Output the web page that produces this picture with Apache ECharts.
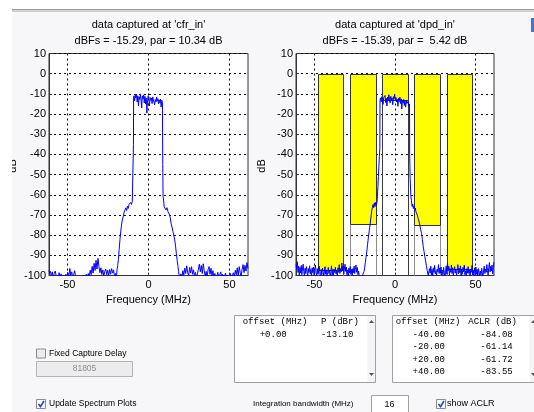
<!DOCTYPE html>
<html><head><meta charset="utf-8">
<script src="https://cdn.jsdelivr.net/npm/echarts@6/dist/echarts.min.js"></script>
<style>html,body{margin:0;padding:0;background:#fff}#c{width:534px;height:412px}</style>
</head><body><div id="c"></div>
<script>
// ---------------- data ----------------
const titleCfr = ["data captured at 'cfr_in'", "dBFs = -15.29, par = 10.34 dB"];
const titleDpd = ["data captured at 'dpd_in'", "dBFs = -15.39, par =  5.42 dB"];
const xAxisTitle = 'Frequency (MHz)';
const yAxisTitle = 'dB';
const xTicks = [-50, 0, 50];
const freqRange = [-61.44, 61.44];
const dbRange = [-100, 10];
const dbStep = 10;

const cfrInSpectrum = [[-61.4,-97.5],[-61.0,-99],[-60.5,-98],[-60.0,-100.5],[-59.4,-98.2],[-58.8,-101],[-58.2,-99],[-57.6,-97.8],[-57.0,-100.2],[-56.4,-99.5],[-55.8,-102],[-55.2,-98.6],[-54.6,-100.8],[-54.0,-99.2],[-53.4,-101.5],[-52.8,-100],[-52.2,-102],[-51.6,-100.6],[-51.0,-99.4],[-50.4,-101],[-49.8,-98.5],[-49.2,-100.4],[-48.6,-96.5],[-48.0,-99.8],[-47.4,-98.2],[-46.8,-101],[-46.2,-99.6],[-45.6,-97.6],[-45.0,-100.5],[-44.4,-102],[-43.8,-100.8],[-43.2,-103],[-42.6,-101],[-42.0,-102.5],[-41.4,-100.4],[-40.8,-101.8],[-40.2,-99.8],[-39.6,-102],[-39.0,-100.6],[-38.4,-99.4],[-37.8,-101.2],[-37.2,-99],[-36.6,-100.4],[-36.0,-97.4],[-35.4,-99.6],[-34.8,-95.5],[-34.2,-98.8],[-33.6,-94],[-33.0,-97.5],[-32.4,-92.5],[-31.8,-96.8],[-31.2,-91.5],[-30.6,-95.5],[-30.0,-98.6],[-29.4,-96.2],[-28.8,-99.5],[-28.2,-97.2],[-27.6,-100.4],[-27.0,-98],[-26.4,-96.8],[-25.8,-99.6],[-25.2,-97.4],[-24.6,-100.2],[-24.0,-97],[-23.4,-99.4],[-22.8,-96.6],[-22.2,-98.8],[-21.6,-97.2],[-21.0,-100.6],[-20.4,-99],[-19.8,-101],[-19.4,-97],[-19.0,-95],[-18.6,-92],[-18.1,-87],[-17.6,-82],[-17.1,-78],[-16.5,-74],[-16.0,-72],[-15.5,-70.5],[-15.0,-68.5],[-14.5,-69],[-14.0,-66.5],[-13.5,-67.8],[-13.0,-65.6],[-12.5,-66.8],[-12.0,-64.8],[-11.5,-65.6],[-11.0,-63.8],[-10.5,-64.8],[-10.0,-63.2],[-9.6,-64],[-9.3,-35],[-9.2,-12],
[-9.0,-11],[-8.6,-13.5],[-8.2,-10.5],[-7.8,-12],[-7.4,-10.2],[-7.0,-14],[-6.6,-11],[-6.2,-16],[-5.8,-11.5],[-5.4,-12.8],[-5.0,-10],[-4.6,-13],[-4.2,-17],[-3.8,-11],[-3.4,-12.5],[-3.0,-10.5],[-2.6,-14.5],[-2.2,-11.2],[-1.8,-15],[-1.4,-12],[-1.0,-19.5],[-0.6,-13.5],[-0.2,-11],[0.2,-12.5],[0.6,-16],[1.0,-11.8],[1.4,-13.2],[1.8,-12],[2.2,-14.8],[2.6,-11.5],[3.0,-13],[3.4,-12.2],[3.8,-15.5],[4.2,-12.8],[4.6,-14],[5.0,-11.6],[5.4,-13.6],[5.8,-12.4],[6.2,-15],[6.6,-13],[7.0,-14.4],[7.4,-12.6],[7.8,-16.5],[8.2,-13.2],[8.6,-14.5],
[8.7,-14],[8.8,-45],[9.0,-61],[9.3,-62.6],[9.7,-66],[10.2,-65.2],[10.8,-67.5],[11.4,-66.4],[12.0,-68.3],[12.5,-67.4],[13.0,-70],[13.5,-71.6],[13.9,-74],[14.5,-76],[15.1,-78.2],[15.7,-80.5],[16.2,-82.4],[16.7,-85.5],[17.2,-89],[17.7,-92.5],[18.2,-95.6],[18.6,-98],[19.0,-100.5],[19.4,-101.5],
[20.0,-99.2],[20.6,-101.4],[21.2,-97.6],[21.8,-99.8],[22.4,-96.4],[23.0,-99],[23.6,-95.2],[24.2,-98.6],[24.8,-100.2],[25.4,-96],[26.0,-98.8],[26.6,-95.6],[27.2,-99.4],[27.8,-97.2],[28.4,-100.6],[29.0,-98.4],[29.6,-101.2],[30.2,-99.2],[30.8,-96.8],[31.4,-94.4],[32.0,-98.2],[32.6,-95],[33.2,-99],[33.8,-94.2],[34.4,-97.6],[35.0,-100.4],[35.6,-98],[36.2,-101],[36.8,-97],[37.4,-95.6],[38.0,-99.4],[38.6,-96.4],[39.2,-100],[39.8,-97.6],[40.4,-101.2],[41.0,-99],[41.6,-102],[42.2,-100.4],[42.8,-98.4],[43.4,-101.6],[44.0,-99.6],[44.6,-98.2],[45.2,-100.8],[45.8,-99.4],[46.4,-102],[47.0,-100.2],[47.6,-98.8],[48.2,-101.4],[48.8,-99.8],[49.4,-102.2],[50.0,-100.6],[50.6,-99],[51.2,-101.8],[51.8,-100],[52.4,-98.6],[53.0,-101],[53.6,-97.4],[54.2,-99.6],[54.8,-96.2],[55.4,-100.2],[56.0,-95.6],[56.6,-98.4],[57.2,-100.8],[57.8,-96.8],[58.4,-94.6],[59.0,-98.6],[59.6,-95],[60.2,-97.8],[60.8,-93.6],[61.4,-96.4]];

const dpdInSpectrum = [[-61.4,-94.5],[-61.0,-97],[-60.6,-93.2],[-60.2,-98.5],[-59.8,-95.4],[-59.4,-100.5],[-59.0,-96],[-58.6,-98.8],[-58.2,-95],[-57.8,-99.6],[-57.4,-96.8],[-57.0,-94.4],[-56.6,-98],[-56.2,-100.2],[-55.8,-96.4],[-55.4,-99],[-55.0,-95.6],[-54.6,-97.8],[-54.2,-101],[-53.8,-96.6],[-53.4,-98.4],[-53.0,-95.2],[-52.6,-99.2],[-52.2,-97],[-51.8,-100.6],[-51.4,-96.2],[-51.0,-98.6],[-50.6,-95.8],[-50.2,-99.8],[-49.8,-97.4],[-49.4,-94.8],[-49.0,-98.2],[-48.6,-100.4],[-48.2,-96.6],[-47.8,-99.2],[-47.4,-97.6],[-47.0,-95.4],[-46.6,-98.8],[-46.2,-101.2],[-45.8,-97],[-45.4,-99.6],[-45.0,-96.4],[-44.6,-98],[-44.2,-100.8],[-43.8,-97.8],[-43.4,-95.6],[-43.0,-99.4],[-42.6,-97.2],[-42.2,-100.2],[-41.8,-98.4],[-41.4,-96],[-41.0,-99],[-40.6,-97.4],[-40.2,-101],[-39.8,-98.2],[-39.4,-95.2],[-39.0,-99.8],[-38.6,-97],[-38.2,-100.4],[-37.8,-96.8],[-37.4,-98.6],[-37.0,-95.8],[-36.6,-99.2],[-36.2,-97.6],[-35.8,-100.6],[-35.4,-96.2],[-35.0,-98.4],[-34.6,-94.6],[-34.2,-99],[-33.8,-96.6],[-33.4,-98.2],[-33.0,-93.8],[-32.6,-97.4],[-32.2,-95.2],[-31.8,-99.4],[-31.4,-96.8],[-31.0,-94.4],[-30.6,-98],[-30.2,-95.8],[-29.8,-99.6],[-29.4,-97.2],[-29.0,-100.2],[-28.6,-96.4],[-28.2,-98.8],[-27.8,-95.6],[-27.4,-99.2],[-27.0,-97],[-26.6,-100.8],[-26.2,-96.6],[-25.8,-98.6],[-25.4,-95.4],[-25.0,-99],[-24.6,-96.2],[-24.2,-94.8],[-23.8,-98.4],[-23.4,-96],[-23.0,-99.6],[-22.6,-97.8],[-22.2,-100.4],[-21.8,-101.6],[-21.4,-100.2],[-21.0,-102],[-20.6,-100.8],
[-20.2,-101.4],[-19.6,-100.6],[-19.2,-98],[-18.8,-96],[-18.4,-93.5],[-18.0,-91],[-17.5,-88],[-17.0,-84.5],[-16.5,-81],[-16.0,-77.8],[-15.4,-74.5],[-14.8,-70.2],[-14.4,-67.6],[-14.0,-66.2],[-13.6,-64.8],[-13.2,-66.4],[-12.8,-64],[-12.4,-65.8],[-12.0,-63.8],[-11.6,-65.2],[-11.2,-63.6],[-10.9,-61],[-10.6,-56],[-10.3,-51],[-10.0,-46],[-9.7,-41],[-9.4,-37],[-9.3,-13.5],
[-9.0,-12],[-8.6,-14],[-8.2,-11.4],[-7.8,-13],[-7.4,-15.2],[-7.0,-11.8],[-6.6,-12.6],[-6.2,-10.8],[-5.8,-14.4],[-5.4,-12.2],[-5.0,-16],[-4.6,-11.6],[-4.2,-13.4],[-3.8,-10.4],[-3.4,-12.8],[-3.0,-14.6],[-2.6,-11.2],[-2.2,-13],[-1.8,-12],[-1.4,-15.4],[-1.0,-11.4],[-0.6,-12.4],[-0.2,-10.2],[0.2,-13.6],[0.6,-11.8],[1.0,-14],[1.4,-12.6],[1.8,-16.2],[2.2,-12.2],[2.6,-13.8],[3.0,-11.6],[3.4,-14.8],[3.8,-12.4],[4.2,-17.5],[4.6,-13],[5.0,-14.6],[5.4,-12.8],[5.8,-15.8],[6.2,-13.4],[6.6,-16.6],[7.0,-13.2],[7.4,-14.8],[7.8,-15.4],[8.2,-13.6],[8.6,-16],
[9.0,-15],[9.1,-40],[9.4,-52],[9.8,-60],[10.2,-63],[10.6,-65.8],[11.0,-64.6],[11.4,-66.8],[11.8,-65.6],[12.2,-67.8],[12.6,-66.6],[13.0,-68.4],[13.4,-67.6],[13.8,-70],[14.2,-71.2],[14.6,-72.4],[15.0,-73.5],[15.5,-75.5],[16.0,-77.4],[16.5,-79.2],[17.0,-82.2],[17.5,-85.5],[18.0,-88],[18.5,-90.6],[19.0,-92.8],[19.5,-95.2],[20.0,-97.6],[20.6,-100.2],
[21.0,-99.4],[21.4,-96.6],[21.8,-98.8],[22.2,-95.4],[22.6,-99.8],[23.0,-97],[23.4,-100.4],[23.8,-96.2],[24.2,-98.4],[24.6,-95],[25.0,-99.2],[25.4,-97.6],[25.8,-100.6],[26.2,-96.8],[26.6,-98.2],[27.0,-94.6],[27.4,-99],[27.8,-96.4],[28.2,-98.8],[28.6,-95.8],[29.0,-100.2],[29.4,-97.4],[29.8,-99.6],[30.2,-96],[30.6,-98.6],[31.0,-101],[31.4,-97.8],[31.8,-95.2],[32.2,-99.4],[32.6,-93.8],[33.0,-97.6],[33.4,-95.4],[33.8,-99.8],[34.2,-96.6],[34.6,-98.4],[35.0,-94.8],[35.4,-99],[35.8,-96.2],[36.2,-100.4],[36.6,-97.4],[37.0,-95.6],[37.4,-98.8],[37.8,-96.8],[38.2,-100],[38.6,-97.2],[39.0,-94.6],[39.4,-99.2],[39.8,-96.4],[40.2,-98.6],[40.6,-95.2],[41.0,-100.6],[41.4,-97],[41.8,-99.4],[42.2,-96],[42.6,-98.2],[43.0,-94.8],[43.4,-99.6],[43.8,-97.6],[44.2,-100.2],[44.6,-96.6],[45.0,-98.8],[45.4,-95.6],[45.8,-99],[46.2,-97.2],[46.6,-101],[47.0,-96.8],[47.4,-98.4],[47.8,-95],[48.2,-99.8],[48.6,-97.4],[49.0,-100.4],[49.4,-96.2],[49.8,-98.6],[50.2,-95.8],[50.6,-99.4],[51.0,-97],[51.4,-100.8],[51.8,-96.6],[52.2,-98.2],[52.6,-101.2],[53.0,-97.8],[53.4,-99.6],[53.8,-96.4],[54.2,-98.8],[54.6,-100.6],[55.0,-97.2],[55.4,-95.4],[55.8,-99],[56.2,-96.8],[56.6,-98.4],[57.0,-94.6],[57.4,-97.6],[57.8,-99.8],[58.2,-96],[58.6,-93.6],[59.0,-98.2],[59.4,-95.4],[59.8,-97.8],[60.2,-94.8],[60.6,-99.2],[61.0,-96.2],[61.4,-93.4]];

const mainOffset = 0;
const mainPower = -13.10;          // dBr
const aclrOffsets = [-40, -20, 20, 40];
const aclrValues = [-84.08, -61.14, -61.72, -83.55];
const channelTopDb = 0;
const integrationBw = 16;
const powerHeader = ['offset (MHz)', 'P (dBr)'];
const aclrHeader = ['offset (MHz)', 'ACLR (dB)'];
const captureDelay = '81805';
const labelFixedDelay = 'Fixed Capture Delay';
const labelUpdate = 'Update Spectrum Plots';
const labelIntBw = 'Integration bandwidth (MHz)';
const labelShowAclr = 'show ACLR';

// ---------------- chart ----------------
const FONT = '"Liberation Sans", Arial, sans-serif';
const MONO = '"Liberation Mono", "DejaVu Sans Mono", monospace';
const chart = echarts.init(document.getElementById('c'), null, {renderer: 'canvas', width: 534, height: 412});

const grids = [
  {left: 49, top: 53.5, width: 199, height: 222},
  {left: 296, top: 53.5, width: 198, height: 222}
];

function xAxisCfg(gi) {
  return {type: 'value', gridIndex: gi, min: freqRange[0], max: freqRange[1],
    axisLine: {show: true, onZero: false, lineStyle: {color: '#333', width: 1}},
    axisTick: {show: true, inside: true, length: 3, customValues: xTicks, lineStyle: {color: '#333'}},
    axisLabel: {show: true, customValues: xTicks, color: '#000', fontSize: 11, fontFamily: FONT, margin: 4},
    splitLine: {show: true, lineStyle: {color: '#000', width: 1, type: [2, 3]}}};
}
function yAxisCfg(gi) {
  return {type: 'value', gridIndex: gi, min: dbRange[0], max: dbRange[1], interval: dbStep,
    axisLine: {show: true, onZero: false, lineStyle: {color: '#333', width: 1}},
    axisTick: {show: true, inside: true, length: 3, lineStyle: {color: '#333'}},
    axisLabel: {show: true, color: '#000', fontSize: 11, fontFamily: FONT, margin: 3},
    splitLine: {show: true, lineStyle: {color: '#000', width: 1, type: [2, 3]}}};
}

const channels = [[mainOffset, mainPower, 1]].concat(
  aclrOffsets.map((o, i) => [o, +(mainPower + aclrValues[i]).toFixed(2), 0]));

function renderChannel(params, api) {
  const off = api.value(0), lvl = api.value(1), isMain = api.value(2);
  const a = api.coord([off - integrationBw / 2, channelTopDb]);
  const b = api.coord([off + integrationBw / 2, lvl]);
  const c = api.coord([off + integrationBw / 2, dbRange[0]]);
  const x0 = Math.round(a[0]) + 0.5, x1 = Math.round(b[0]) + 0.5;
  const y0 = Math.round(a[1]) + 0.5, y1 = Math.round(b[1]) + 0.5, y2 = Math.round(c[1]) + 0.5;
  return {type: 'group', children: [
    {type: 'rect', shape: {x: x0, y: y1, width: x1 - x0, height: y2 - y1},
      style: {fill: 'none', stroke: isMain ? '#3a3a3a' : '#8c8c8c', lineWidth: 1}},
    {type: 'rect', shape: {x: x0, y: y0, width: x1 - x0, height: y1 - y0},
      style: {fill: '#ffff00', stroke: '#333', lineWidth: 1}}
  ]};
}

function txt(x, y, s, o) {
  o = o || {};
  return {type: 'text', x: x, y: y, z: o.z || 50, rotation: o.rot || 0,
    style: {text: s, fill: o.fill || '#000', fontSize: o.size || 11, fontFamily: o.family || FONT,
      align: o.align || 'left', verticalAlign: o.va || 'middle',
      textAlign: o.align || 'left', textVerticalAlign: o.va || 'middle'}};
}
function rect(x, y, w, h, fill, stroke, z) {
  return {type: 'rect', z: z || 40, shape: {x: x, y: y, width: w, height: h},
    style: {fill: fill, stroke: stroke || null, lineWidth: 1}};
}
function checkbox(x, y, checked) {
  const els = [rect(x + 0.5, y + 0.5, 9, 9, checked ? '#ffffff' : '#ececec', '#8a8a8a')];
  if (checked) els.push({type: 'polyline', z: 45, shape: {points: [[x + 2.5, y + 5], [x + 4.5, y + 7.5], [x + 8, y + 2]]},
    style: {stroke: '#2350c8', lineWidth: 1.7, fill: null}});
  return els;
}
function tri(cx, cy, up) {
  const pts = up ? [[cx - 2.5, cy + 1.5], [cx + 2.5, cy + 1.5], [cx, cy - 1.5]]
                 : [[cx - 2.5, cy - 1.5], [cx + 2.5, cy - 1.5], [cx, cy + 1.5]];
  return {type: 'polygon', z: 45, shape: {points: pts}, style: {fill: '#555'}};
}
const fmtOff = v => (v >= 0 ? '+' : '') + v.toFixed(2);

let graphics = [];
// white margins and top separator
graphics.push(rect(0, 0, 534, 9, '#ffffff', null, 100));
graphics.push(rect(0, 0, 12, 412, '#ffffff', null, 100));
graphics.push(rect(12, 9, 522, 1, '#9c9c9c', null, 101));
graphics.push(rect(12, 10, 522, 2, '#cfd0d4', null, 101));
graphics.push(rect(531, 18, 3, 14, '#3a7bd0', null, 101));
// titles
graphics.push(txt(148.5, 25, titleCfr[0], {align: 'center'}));
graphics.push(txt(148.5, 40.5, titleCfr[1], {align: 'center'}));
graphics.push(txt(395, 25, titleDpd[0], {align: 'center'}));
graphics.push(txt(395, 40.5, titleDpd[1], {align: 'center'}));
// axis names
graphics.push(txt(148.5, 300, xAxisTitle, {align: 'center'}));
graphics.push(txt(395, 300, xAxisTitle, {align: 'center'}));
graphics.push(txt(13, 166, yAxisTitle, {align: 'center', rot: Math.PI / 2}));
graphics.push(txt(262, 166, yAxisTitle, {align: 'center', rot: Math.PI / 2}));
// left widgets
graphics = graphics.concat(checkbox(36, 348.5, false));
graphics.push(txt(49, 353.5, labelFixedDelay, {size: 8.5}));
graphics.push(rect(36.5, 361.5, 96, 15, '#ececec', '#b4b4b4'));
graphics.push(txt(84.5, 369, captureDelay, {size: 8.5, align: 'center', fill: '#8c8c8c'}));
graphics = graphics.concat(checkbox(36, 399, true));
graphics.push(txt(49, 404, labelUpdate, {size: 8.5}));
// power table
graphics.push(rect(234.5, 315.5, 141, 67, '#ffffff', '#a0a0a0'));
graphics.push(rect(367.5, 316, 7.5, 66, '#f4f4f4', null));
graphics.push(tri(371.5, 321.5, true));
graphics.push(tri(371.5, 374.5, false));
graphics.push(txt(242.7, 321.5, powerHeader[0], {size: 9, family: MONO}));
graphics.push(txt(321, 321.5, powerHeader[1], {size: 9, family: MONO}));
graphics.push(txt(286.7, 334.3, fmtOff(mainOffset), {size: 9, family: MONO, align: 'right'}));
graphics.push(txt(353.3, 334.3, mainPower.toFixed(2), {size: 9, family: MONO, align: 'right'}));
// aclr table
graphics.push(rect(392.5, 315.5, 150, 67, '#ffffff', '#a0a0a0'));
graphics.push(rect(529.5, 316, 5, 66, '#f4f4f4', null));
graphics.push(tri(533.5, 321.5, true));
graphics.push(tri(533.5, 374.5, false));
graphics.push(txt(395.7, 321.5, aclrHeader[0], {size: 9, family: MONO}));
graphics.push(txt(468.3, 321.5, aclrHeader[1], {size: 9, family: MONO}));
aclrOffsets.forEach((o, i) => {
  const y = 334.3 + i * 12.5;
  graphics.push(txt(445, y, fmtOff(o), {size: 9, family: MONO, align: 'right'}));
  graphics.push(txt(512.7, y, aclrValues[i].toFixed(2), {size: 9, family: MONO, align: 'right'}));
});
// bottom controls
graphics.push(txt(253, 404, labelIntBw, {size: 8}));
graphics.push(rect(371.5, 395.5, 37, 18, '#ffffff', '#a0a0a0'));
graphics.push(txt(389.5, 404.5, String(integrationBw), {size: 9, align: 'center'}));
graphics = graphics.concat(checkbox(436, 399, true));
graphics.push(txt(447, 404, labelShowAclr, {size: 9}));

const option = {
  animation: false,
  backgroundColor: '#f7f7fa',
  grid: grids.map(g => Object.assign({show: true, backgroundColor: '#ffffff', borderColor: '#333', borderWidth: 1,
    containLabel: false, outerBoundsMode: 'none'}, g)),
  xAxis: [xAxisCfg(0), xAxisCfg(1)],
  yAxis: [yAxisCfg(0), yAxisCfg(1)],
  series: [
    {type: 'line', xAxisIndex: 0, yAxisIndex: 0, data: cfrInSpectrum, symbol: 'none', showSymbol: false,
      clip: true, z: 3, lineStyle: {color: '#0000ff', width: 1}},
    {type: 'custom', xAxisIndex: 1, yAxisIndex: 1, data: channels, renderItem: renderChannel,
      clip: true, z: 2, encode: {x: 0, y: 1}},
    {type: 'line', xAxisIndex: 1, yAxisIndex: 1, data: dpdInSpectrum, symbol: 'none', showSymbol: false,
      clip: true, z: 3, lineStyle: {color: '#0000ff', width: 1}}
  ],
  graphic: {elements: graphics}
};
chart.setOption(option);
</script>
</body></html>
